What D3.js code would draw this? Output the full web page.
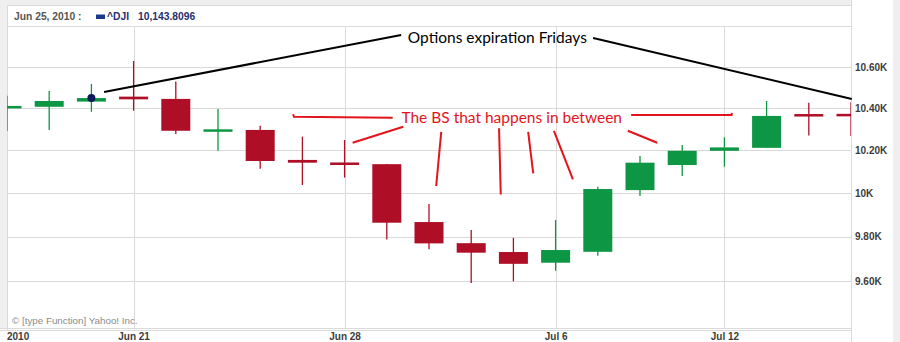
<!DOCTYPE html>
<html>
<head>
<meta charset="utf-8">
<script src="https://cdn.jsdelivr.net/npm/d3@7"></script>
<style>
  body { margin: 0; background: #fff; }
  svg { display: block; }
  .axis text { font-family: "Liberation Sans", Arial, sans-serif; font-weight: bold; font-size: 10px; fill: #3c3c3c; }
  .note { font-family: Lato, "Open Sans", sans-serif; font-size: 15.5px; }
</style>
</head>
<body>
<svg width="900" height="342"></svg>
<script>
// ^DJI daily candles, Jun 16 - Jul 15 2010
var dates  = ["Jun 16","Jun 17","Jun 18","Jun 21","Jun 22","Jun 23","Jun 24","Jun 25","Jun 28","Jun 29","Jun 30",
              "Jul 1","Jul 2","Jul 6","Jul 7","Jul 8","Jul 9","Jul 12","Jul 13","Jul 14","Jul 15"];
var opens  = [10402,10408,10433,10457,10446,10292,10297,10155,10143,10135, 9867, 9771, 9731, 9683, 9732,10014,10131,10198,10212,10373,10374];
var highs  = [10461,10484,10518,10631,10530,10397,10317,10265,10249,10136, 9950, 9831, 9795, 9876,10030,10173,10225,10262,10436,10428,10430];
var lows   = [10292,10297,10384,10389,10278,10198,10114,10038,10072, 9788, 9743, 9593, 9600, 9647, 9714, 9987,10080,10123,10212,10270,10268];
var closes = [10412,10436,10450,10444,10293,10300,10150,10142,10138, 9864, 9770, 9728, 9678, 9740,10019,10142,10198,10214,10364,10367,10362];

var yTicks = [9600, 9800, 10000, 10200, 10400, 10600];
var yTickLabels = ["9.60K", "9.80K", "10K", "10.20K", "10.40K", "10.60K"];
var xTickDates = ["Jun 21", "Jun 28", "Jul 6", "Jul 12"];
var yearLabel = "2010";
var markedIndex = 2; // the hover dot
var headerDate = "Jun 25, 2010 :", headerSymbol = "^DJI", headerValue = "10,143.8096";

// hand-drawn notes, points given as [day index, index value]
var blackLines = [
  [[2.30, 10479], [9.34, 10760]],
  [[13.89, 10745], [20.02, 10446]]
];
var blackLabel = { at: [11.62, 10722], text: "Options expiration Fridays" };
var redLines = [
  [[6.78, 10372], [6.80, 10360], [9.14, 10355]],
  [[8.19, 10236], [9.39, 10312]],
  [[10.29, 10288], [10.17, 10033]],
  [[11.66, 10305], [11.70, 9994]],
  [[12.35, 10288], [12.47, 10092]],
  [[12.96, 10293], [13.41, 10064]],
  [[14.71, 10293], [15.41, 10236]],
  [[14.79, 10368], [17.17, 10368], [17.18, 10378]]
];
var redLabel = { at: [11.96, 10330], text: "The BS that happens in between" };

var svg = d3.select("svg");
var plotL = 7, plotR = 851, plotT = 26, plotB = 328;
var green = "#0d9644", red = "#af0e27", grid = "#dadada";

var x = d3.scalePoint().domain(dates).range([plotL, plotR]);
var y = d3.scaleLog().domain([9600, 10600]).range([281.3, 67.3]);
function xi(i) { return x(dates[0]) + i * x.step(); }
function pt(p) { return [xi(p[0]), y(p[1])]; }

// page frame
svg.append("rect").attr("width", 900).attr("height", 342).attr("fill", "#fff");
svg.append("rect").attr("x", 0).attr("y", 0).attr("width", plotL).attr("height", plotB + 1).attr("fill", "#efefef");
svg.append("rect").attr("x", 0).attr("y", 0).attr("width", plotR).attr("height", 5).attr("fill", "#efefef");
svg.append("rect").attr("x", 893).attr("y", 0).attr("width", 7).attr("height", 342).attr("fill", "#efefef");

var frame = svg.append("g").attr("stroke", grid).attr("shape-rendering", "crispEdges");
frame.append("line").attr("x1", plotL).attr("x2", plotR).attr("y1", 5.5).attr("y2", 5.5);
frame.append("line").attr("x1", plotL).attr("x2", plotR).attr("y1", plotT + 0.5).attr("y2", plotT + 0.5);
frame.append("line").attr("x1", plotL + 0.5).attr("x2", plotL + 0.5).attr("y1", 5).attr("y2", plotB + 2);
frame.append("line").attr("x1", plotR + 0.5).attr("x2", plotR + 0.5).attr("y1", 0).attr("y2", 342);
frame.append("line").attr("x1", 0).attr("x2", plotR).attr("y1", plotB + 0.5).attr("y2", plotB + 0.5);
frame.append("line").attr("x1", 0).attr("x2", plotR).attr("y1", plotB + 2.5).attr("y2", plotB + 2.5);

// grid
svg.append("g").selectAll("line").data(yTicks).enter().append("line")
  .attr("x1", plotL).attr("x2", plotR)
  .attr("y1", function (d) { return Math.round(y(d)) + 0.5; })
  .attr("y2", function (d) { return Math.round(y(d)) + 0.5; })
  .attr("stroke", grid).attr("shape-rendering", "crispEdges");
svg.append("g").selectAll("line").data(xTickDates).enter().append("line")
  .attr("x1", function (d) { return Math.round(x(d)) + 0.5; })
  .attr("x2", function (d) { return Math.round(x(d)) + 0.5; })
  .attr("y1", plotT).attr("y2", plotB)
  .attr("stroke", grid).attr("shape-rendering", "crispEdges");

// axes
var yAxis = d3.axisRight(y).tickValues(yTicks).tickSize(0).tickPadding(4)
  .tickFormat(function (d, i) { return yTickLabels[i]; });
svg.append("g").attr("class", "axis").attr("transform", "translate(" + plotR + ",0)").call(yAxis)
  .call(function (g) { g.select(".domain").remove(); });
var xAxis = d3.axisBottom(x).tickValues(xTickDates).tickSize(0).tickPadding(3);
svg.append("g").attr("class", "axis").attr("transform", "translate(0," + (plotB + 2) + ")").call(xAxis)
  .call(function (g) { g.select(".domain").remove(); });
svg.append("text")
  .attr("x", x(dates[0])).attr("y", 340)
  .style("font-family", "Liberation Sans, Arial, sans-serif").style("font-weight", "bold")
  .style("font-size", "10px").style("fill", "#3c3c3c")
  .text(yearLabel);

// header
svg.append("text").attr("x", 14).attr("y", 20)
  .style("font-family", "Liberation Sans, Arial, sans-serif").style("font-weight", "bold")
  .style("font-size", "10.3px").style("fill", "#555").text(headerDate);
svg.append("rect").attr("x", 96).attr("y", 14.5).attr("width", 9).attr("height", 4.5).attr("fill", "#1d3a8a");
var hdr = svg.append("text").attr("y", 20)
  .style("font-family", "Liberation Sans, Arial, sans-serif").style("font-weight", "bold")
  .style("font-size", "10.3px").style("fill", "#1f2f6e");
hdr.append("tspan").attr("x", 107).text(headerSymbol);
hdr.append("tspan").attr("x", 138).text(headerValue);

svg.append("text").attr("x", 12).attr("y", 324)
  .style("font-family", "Liberation Sans, Arial, sans-serif").style("font-size", "9.8px")
  .style("fill", "#8a8a8a").text("\u00a9 [type Function] Yahoo! Inc.");

// candles
svg.append("clipPath").attr("id", "plot").append("rect")
  .attr("x", plotL).attr("y", plotT).attr("width", plotR - plotL).attr("height", plotB - plotT);
var plot = svg.append("g").attr("clip-path", "url(#plot)");
var candles = plot.selectAll(".candle").data(dates).enter().append("g").attr("class", "candle");
function col(d, i) { return closes[i] >= opens[i] ? green : red; }
candles.append("line")
  .attr("x1", function (d) { return x(d); }).attr("x2", function (d) { return x(d); })
  .attr("y1", function (d, i) { return y(highs[i]); })
  .attr("y2", function (d, i) { return y(lows[i]); })
  .attr("stroke", col).attr("stroke-width", 1.3);
candles.append("rect")
  .attr("x", function (d) { return x(d) - 14.5; })
  .attr("width", 29)
  .attr("y", function (d, i) { return y(Math.max(opens[i], closes[i])); })
  .attr("height", function (d, i) { return Math.max(2.5, Math.abs(y(opens[i]) - y(closes[i]))); })
  .attr("fill", col);

svg.append("circle")
  .attr("cx", x(dates[markedIndex])).attr("cy", y(closes[markedIndex])).attr("r", 4)
  .attr("fill", "#0c1a5a");

// notes
var line = d3.line().x(function (p) { return pt(p)[0]; }).y(function (p) { return pt(p)[1]; });
svg.append("g").selectAll("path").data(blackLines).enter().append("path")
  .attr("d", line).attr("fill", "none").attr("stroke", "#000").attr("stroke-width", 2);
svg.append("text").attr("class", "note")
  .attr("x", pt(blackLabel.at)[0]).attr("y", pt(blackLabel.at)[1])
  .attr("text-anchor", "middle").attr("fill", "#000").text(blackLabel.text);
svg.append("g").selectAll("path").data(redLines).enter().append("path")
  .attr("d", line).attr("fill", "none").attr("stroke", "#e3141b").attr("stroke-width", 2);
svg.append("text").attr("class", "note")
  .attr("x", pt(redLabel.at)[0]).attr("y", pt(redLabel.at)[1])
  .attr("text-anchor", "middle").attr("fill", "#e3141b").text(redLabel.text);
</script>
</body>
</html>
